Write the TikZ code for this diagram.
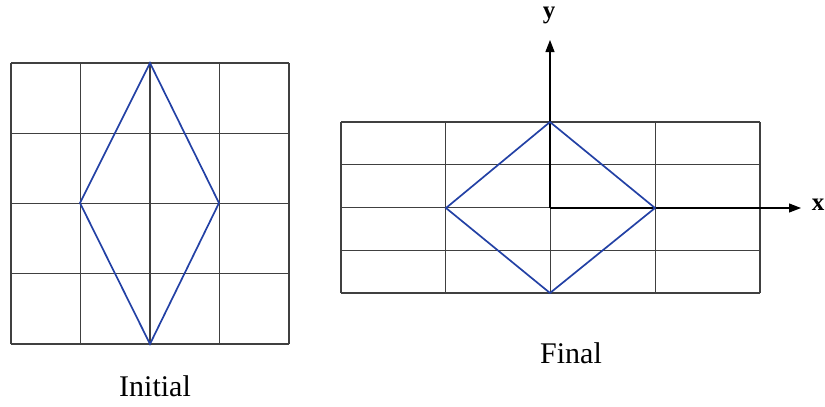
\documentclass[tikz,border=0pt]{standalone}
\usepackage{fontspec}
\setmainfont{Liberation Serif}
\usetikzlibrary{arrows.meta}
\definecolor{dblue}{RGB}{35,65,165}
\begin{document}
\begin{tikzpicture}[x=1pt,y=-1pt,
  gridline/.style={draw=black!75,line width=1.1pt},
  diamondline/.style={draw=dblue,line width=1.7pt,line join=miter},
  axisline/.style={draw=black,line width=1.1pt,-{Triangle[length=12pt,width=9pt]}},
  captiontext/.style={font=\fontsize{30}{33}\selectfont},
  axlab/.style={font=\fontsize{25}{27}\selectfont\bfseries}]
\useasboundingbox (0,0) rectangle (825,407);
% left grid
\foreach \i in {0,...,4}{
  \draw[gridline] ({11+\i*69.5},63) -- ({11+\i*69.5},344);
  \draw[gridline] (11,{63+\i*70.25}) -- (289,{63+\i*70.25});
}
\coordinate (lt) at (150,63);
\coordinate (ll) at (80,203);
\coordinate (lb) at (150,344);
\coordinate (lr) at (219,203);
\draw[diamondline] (lt) -- (lr) -- (lb) -- (ll) -- cycle;
\node[captiontext] (init) at (155,386) {Initial};
% right grid
\foreach \i in {0,...,4}{
  \draw[gridline] ({341+\i*104.75},122) -- ({341+\i*104.75},293);
  \draw[gridline] (341,{122+\i*42.75}) -- (760,{122+\i*42.75});
}
\coordinate (o) at (550,208);
\coordinate (ytip) at (550,40);
\coordinate (xtip) at (801,208);
\draw[axisline] (o) -- (ytip);
\draw[axisline] (o) -- (xtip);
\node[axlab] (ylab) at (549,15) {y};
\node[axlab] (xlab) at (818,205) {x};
\coordinate (rt) at (550,122);
\coordinate (rl) at (446,208);
\coordinate (rb) at (550,293);
\coordinate (rr) at (655,208);
\draw[diamondline] (rt) -- (rr) -- (rb) -- (rl) -- cycle;
\node[captiontext] (fin) at (571,353) {Final};
\end{tikzpicture}
\end{document}
